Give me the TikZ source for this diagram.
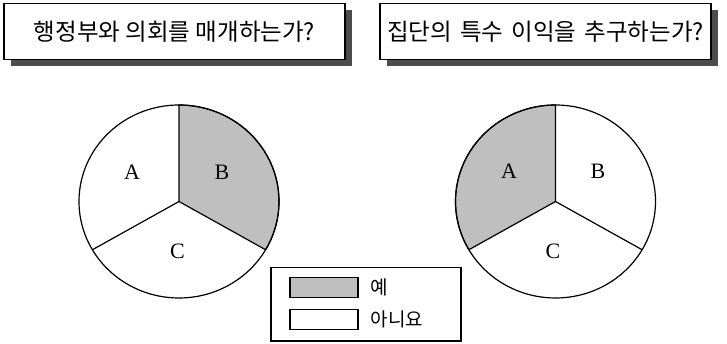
\documentclass[tikz,border=0pt]{standalone}
\usepackage{fontspec}
\setmainfont{Liberation Serif}
\newfontfamily\kr{Noto Sans CJK KR}
\usetikzlibrary{shadows}
\definecolor{yesgray}{RGB}{191,191,191}

\begin{document}
\begin{tikzpicture}[x=1pt,y=1pt,line width=1.2pt,
    titlebox/.style={draw,fill=white,minimum width=#1,minimum height=56pt,inner sep=0pt,
        font=\kr\fontsize{23.5}{27}\selectfont,
        drop shadow={shadow xshift=7pt,shadow yshift=-7pt,fill=black!70,opacity=1}},
    letter/.style={font=\fontsize{22}{26}\selectfont},
    swatch/.style={draw,minimum width=68pt,minimum height=20pt,inner sep=0pt},
    legtext/.style={anchor=west,inner sep=0pt,font=\kr\fontsize{19}{22}\selectfont}]
    \useasboundingbox (0,0) rectangle (727,344);
    % questions
    \node[titlebox=341pt] (q1) at (174.5,312.7) {행정부와 의회를 매개하는가?};
    \node[titlebox=331pt] (q2) at (545.5,312.7) {집단의\hspace{3pt} 특수\hspace{3pt} 이익을\hspace{3pt} 추구하는가?};
    % left pie, B is yes
    \coordinate (lc) at (179,142.5);
    \filldraw[fill=yesgray] (lc) -- +(0,96.5) arc[start angle=90,end angle=-30,x radius=100,y radius=96.5] -- cycle;
    \draw (lc) ellipse[x radius=100,y radius=96.5];
    \draw (lc) -- +(-86.6,-48.25);
    \node[letter] (la) at (132,172) {A};
    \node[letter] (lb) at (222,172) {B};
    \node[letter] (lcc) at (177.5,93) {C};
    % right pie, A is yes
    \coordinate (rc) at (555.5,142.5);
    \filldraw[fill=yesgray] (rc) -- +(0,96.5) arc[start angle=90,end angle=210,x radius=100,y radius=96.5] -- cycle;
    \draw (rc) ellipse[x radius=100,y radius=96.5];
    \draw (rc) -- +(86.6,-48.25);
    \node[letter] (ra) at (509,172.5) {A};
    \node[letter] (rb) at (598,172.5) {B};
    \node[letter] (rcc) at (553,93) {C};
    % legend
    \node[draw,minimum width=190pt,minimum height=73.3pt,inner sep=0pt] (leg) at (366,39.7) {};
    \node[swatch,fill=yesgray] (yes) at (324,56.3) {};
    \node[swatch,fill=white] (no) at (324,24.5) {};
    \node[legtext] (yestext) at (370,57) {예};
    \node[legtext] (notext) at (370,25) {아니요};
\end{tikzpicture}
\end{document}
